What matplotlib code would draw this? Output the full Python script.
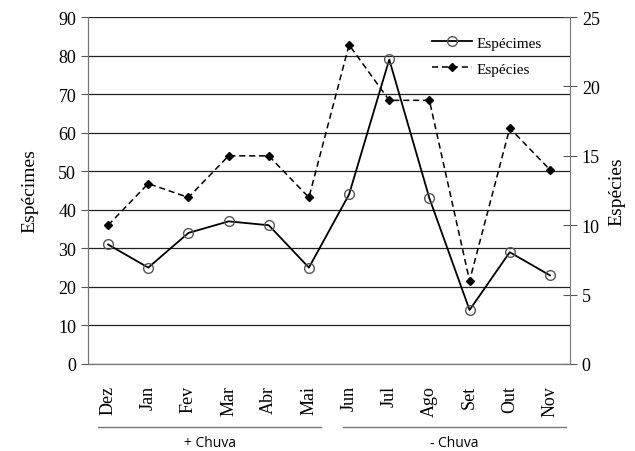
import matplotlib
matplotlib.use('Agg')
import matplotlib.pyplot as plt
import matplotlib.transforms as mtransforms

# Data
meses = ['Dez', 'Jan', 'Fev', 'Mar', 'Abr', 'Mai', 'Jun', 'Jul', 'Ago', 'Set', 'Out', 'Nov']
especimes = [31, 25, 34, 37, 36, 25, 44, 79, 43, 14, 29, 23]
especies = [10, 13, 12, 15, 15, 12, 23, 19, 19, 6, 17, 14]
grupos = ['+ Chuva', '- Chuva']

plt.rcParams['font.family'] = ['Liberation Serif', 'DejaVu Serif']

fig = plt.figure(figsize=(6.35, 4.52), dpi=100)
ax = fig.add_axes([0.1386, 0.1925, 0.759, 0.7675])
ax2 = ax.twinx()

x = list(range(len(meses)))

l1, = ax.plot(x, especimes, color='black', lw=1.3, marker='o', markersize=7,
              markerfacecolor='none', markeredgecolor='#555555', markeredgewidth=1.0,
              label='Espécimes', zorder=3)
l2, = ax2.plot(x, especies, color='black', lw=1.1, ls=(0, (4, 2.5)), marker='D',
               markersize=4.5, markerfacecolor='black', label='Espécies', zorder=3)

ax.set_xlim(-0.5, len(meses) - 0.5)
ax.set_ylim(0, 90)
ax.set_yticks(range(0, 91, 10))
ax2.set_ylim(0, 25)
ax2.set_yticks(range(0, 26, 5))

ax.yaxis.grid(True, color='#222222', lw=0.9)
ax.set_axisbelow(True)

ax.set_xticks(x)
ax.set_xticklabels(meses, rotation=90, fontsize=13)
ax.tick_params(axis='x', length=0, pad=15)
ax.tick_params(axis='y', labelsize=13, length=5, color='#555555', direction='out')
ax2.tick_params(axis='y', labelsize=13, length=10, color='#555555', direction='inout')

for a in (ax, ax2):
    for s in a.spines.values():
        s.set_color('#777777')
    a.spines['top'].set_visible(False)
ax.spines['right'].set_visible(False)

ax.set_ylabel('Espécimes', fontsize=14, labelpad=14)
ax2.set_ylabel('Espécies', fontsize=14, labelpad=6)

leg = ax2.legend(handles=[l1, l2], loc='upper right', bbox_to_anchor=(0.97, 0.985),
                 frameon=False, fontsize=11, handlelength=2.6, handletextpad=0.3,
                 labelspacing=0.8)

# group brackets below the month labels
trans = mtransforms.blended_transform_factory(ax.transData, fig.transFigure)
spans = [(-0.25, 5.3), (5.85, 11.4)]
for nome, (a0, a1) in zip(grupos, spans):
    ax.plot([a0, a1], [0.053, 0.053], transform=trans, color='#777777', lw=1.0,
            clip_on=False)
    ax.text((a0 + a1) / 2, 0.018, nome, transform=trans, ha='center', va='center',
            fontsize=10, family=['Open Sans', 'DejaVu Sans'])

fig.savefig('out.png', dpi=100)
